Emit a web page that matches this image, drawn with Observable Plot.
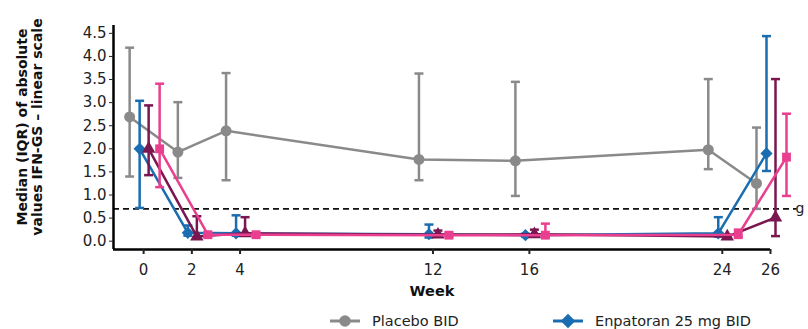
<!DOCTYPE html>
<html><head><meta charset="utf-8">
<script src="https://cdn.jsdelivr.net/npm/d3@7"></script>
<script src="https://cdn.jsdelivr.net/npm/@observablehq/plot@0.6"></script>
<style>
body{margin:0;background:#fff;font-family:"DejaVu Sans",Verdana,sans-serif;}
#legend{position:relative;height:24px;margin-top:9px;font-size:14.5px;color:#222;}
.li{display:flex;align-items:center;position:absolute;top:0;}
</style></head>
<body>
<div id="chart"></div>
<div id="legend"></div>
<script>
const weeks = [0, 2, 4, 12, 16, 24, 26];
const yTicks = [0, 0.5, 1, 1.5, 2, 2.5, 3, 3.5, 4, 4.5];
const threshold = 0.7;

const placeboMed = [2.69, 1.93, 2.39, 1.77, 1.74, 1.98, 1.25];
const placeboLo  = [1.40, 1.37, 1.32, 1.32, 0.98, 1.56, 0.70];
const placeboHi  = [4.19, 3.01, 3.64, 3.63, 3.45, 3.51, 2.46];

const enp25Med = [2.00, 0.18, 0.17, 0.15, 0.13, 0.17, 1.90];
const enp25Lo  = [0.72, 0.12, 0.12, 0.08, 0.10, 0.10, 1.52];
const enp25Hi  = [3.04, 0.34, 0.56, 0.36, 0.16, 0.52, 4.44];

const enp50Med = [2.00, 0.10, 0.17, 0.14, 0.15, 0.10, 0.51];
const enp50Lo  = [1.43, 0.08, 0.12, 0.10, 0.10, 0.08, 0.11];
const enp50Hi  = [2.94, 0.54, 0.52, 0.23, 0.25, 0.14, 3.51];

const enp100Med = [2.00, 0.14, 0.14, 0.13, 0.13, 0.14, 1.82];
const enp100Lo  = [1.17, 0.10, 0.10, 0.10, 0.10, 0.10, 0.98];
const enp100Hi  = [3.41, 0.17, 0.16, 0.18, 0.38, 0.25, 2.76];

const seriesDefs = [
  {name: "Placebo BID", med: placeboMed, lo: placeboLo, hi: placeboHi, color: "#8a8a8a", symbol: "circle", r: 5.5, dx: -14},
  {name: "Enpatoran 25 mg BID", med: enp25Med, lo: enp25Lo, hi: enp25Hi, color: "#1a6db0", symbol: "diamond2", r: 5.5, dx: -4},
  {name: "Enpatoran 50 mg BID", med: enp50Med, lo: enp50Lo, hi: enp50Hi, color: "#7a1650", symbol: "triangle", r: 5, dx: 5},
  {name: "Enpatoran 100 mg BID", med: enp100Med, lo: enp100Lo, hi: enp100Hi, color: "#ea3f8f", symbol: "square", r: 5, dx: 16}
];

const cap = {draw(ctx) { ctx.moveTo(-4.5, 0); ctx.lineTo(4.5, 0); }};

const marks = [];
marks.push(Plot.ruleY([threshold], {stroke: "#111", strokeWidth: 1.6, strokeDasharray: "6,4", x1: () => -1.25, x2: () => 27.1}));
for (const s of seriesDefs) {
  const rows = weeks.map((w, i) => ({week: w, med: s.med[i], lo: s.lo[i], hi: s.hi[i]}));
  marks.push(Plot.ruleX(rows, {x: "week", y1: "lo", y2: "hi", stroke: s.color, strokeWidth: 2.5, dx: s.dx}));
  marks.push(Plot.dot(rows, {x: "week", y: "lo", symbol: cap, stroke: s.color, strokeWidth: 2.5, dx: s.dx}));
  marks.push(Plot.dot(rows, {x: "week", y: "hi", symbol: cap, stroke: s.color, strokeWidth: 2.5, dx: s.dx}));
  marks.push(Plot.line(rows, {x: "week", y: "med", stroke: s.color, strokeWidth: 2.5, dx: s.dx}));
  marks.push(Plot.dot(rows, {x: "week", y: "med", symbol: s.symbol, r: s.r, fill: s.color, stroke: "none", dx: s.dx}));
}
marks.push(Plot.ruleX([-1.25], {stroke: "#000", strokeWidth: 2.5}));
marks.push(Plot.ruleY([-0.18], {stroke: "#000", strokeWidth: 2.5}));
marks.push(Plot.axisY({ticks: yTicks, tickFormat: d => d.toFixed(1), tickSize: 4, tickPadding: 3, fontSize: 15, color: "#222", label: null}));
marks.push(Plot.axisX({ticks: weeks, tickSize: 5, tickPadding: 10, fontSize: 15, color: "#222", label: null, strokeWidth: 2}));

const plot = Plot.plot({
  width: 808, height: 304,
  marginLeft: 113, marginRight: 38, marginTop: 25, marginBottom: 55,
  style: {fontFamily: "DejaVu Sans, Verdana, sans-serif", overflow: "visible", background: "#fff"},
  x: {domain: [-1.25, 26]},
  y: {domain: [-0.18, 4.67]},
  marks
});
document.getElementById("chart").appendChild(plot);

const svg = d3.select(plot);
const yl = svg.append("text").attr("transform", "translate(27,127) rotate(-90)")
  .attr("text-anchor", "middle").attr("font-weight", "bold").attr("font-size", 14).attr("fill", "#111");
yl.append("tspan").attr("x", 0).attr("dy", "0em").text("Median (IQR) of absolute");
yl.append("tspan").attr("x", 0).attr("dy", "1.1em").text("values IFN-GS – linear scale");
svg.append("text").attr("x", 432).attr("y", 296).attr("text-anchor", "middle")
  .attr("font-weight", "bold").attr("font-size", 14.5).attr("fill", "#111").text("Week");
svg.append("text").attr("x", 800).attr("y", 213).attr("font-size", 14).attr("fill", "#222").text("g");

const legendItems = [seriesDefs[0], seriesDefs[1]];
const legendX = [330, 553];
const leg = document.getElementById("legend");
legendItems.forEach((s, i) => {
  const d = document.createElement("div");
  d.className = "li";
  d.style.left = legendX[i] + "px";
  const sym = d3.symbol(s.symbol === "circle" ? d3.symbolCircle : d3.symbolDiamond2, s.r * s.r * Math.PI * (s.symbol === "circle" ? 1.1 : 1.4))();
  d.innerHTML = `<svg width="32" height="16" style="margin-right:10px"><line x1="0" x2="30" y1="8" y2="8" stroke="${s.color}" stroke-width="3"/><path d="${sym}" transform="translate(15,8)" fill="${s.color}"/></svg><span>${s.name}</span>`;
  leg.appendChild(d);
});
</script>
</body></html>
